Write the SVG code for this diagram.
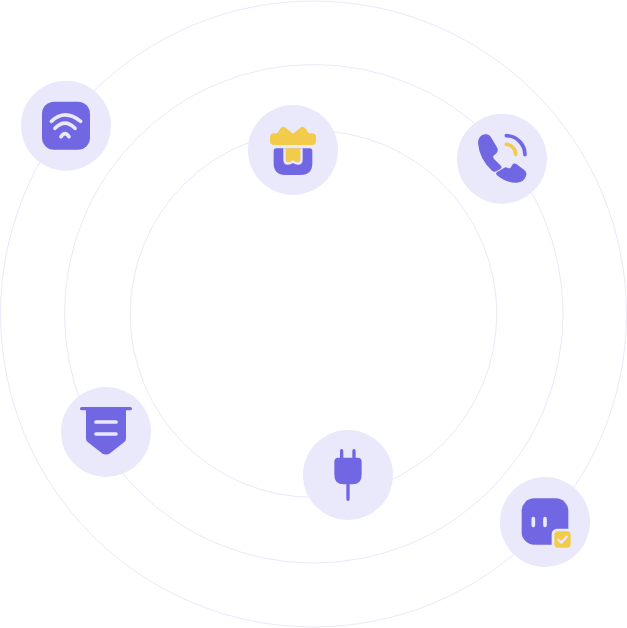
<svg xmlns="http://www.w3.org/2000/svg" width="627" height="628" viewBox="0 0 627 628">
<style>
.ring{fill:none;stroke:#EAE8FA;stroke-width:1}
.disc{fill:#EAE8FB}
.p{fill:#7267E2}
.y{fill:#F2CB4B}
.ps{fill:none;stroke:#7267E2;stroke-width:10;stroke-linecap:round}
.ls{fill:none;stroke:#EAE8FB;stroke-width:11;stroke-linecap:round}
</style>
<rect width="627" height="628" fill="#fff"/>
<g id="connectors">
<circle class="ring" cx="313.5" cy="314" r="313"/>
<circle class="ring" cx="313.8" cy="313.8" r="249.3"/>
<circle class="ring" cx="313.5" cy="314" r="183.3"/>
</g>
<g id="node-wifi">
<circle class="disc" cx="66" cy="125.7" r="45"/>
<g transform="translate(15 75) scale(.3333)">
<rect class="p" x="81" y="80" width="144" height="144" rx="36"/>
<path class="ls" d="M109 139Q150 100 197 139M120 160Q150 129 180 160M138 185Q150 167 162 185"/>
</g>
</g>
<g id="node-gift">
<circle class="disc" cx="293" cy="150" r="45"/>
<g transform="translate(243 100) scale(.3333)">
<path class="y" d="M93 100H103L113 85Q120 76 128 83L150 101L172 83Q180 76 187 85L197 100H207Q219 100 219 112V123Q219 135 207 135H93Q81 135 81 123V112Q81 100 93 100Z"/>
<path class="p" d="M92 153Q92 145 100 145H200Q208 145 208 153V190Q208 225 173 225H127Q92 225 92 190Z"/>
<path class="disc" d="M121 145H179V180Q179 194 165 194Q157 194 150 189Q143 194 135 194Q121 194 121 180Z"/>
<path class="y" d="M128 145H172V178Q172 187 163 187Q156 187 150 180Q144 187 137 187Q128 187 128 178Z"/>
</g>
</g>
<g id="node-phone">
<circle class="disc" cx="502" cy="158.7" r="45"/>
<g transform="translate(452 109) scale(.3333)">
<path class="p" d="M78 102Q79 80 98 76Q111 74 118 86L136 117Q140 128 131 135L124 141Q122 146 127 151L148 172Q150 177 145 180L133 187Q126 190 120 185Q82 150 78 102Z"/>
<path class="p" d="M134 190L156 177Q162 173 167 177Q175 181 181 167Q186 161 193 165L216 182Q226 190 222 201Q215 220 195 221Q163 222 134 198Q131 194 134 190Z"/>
<path d="M163 80A57 57 0 0 1 219 137" fill="none" stroke="#7267E2" stroke-width="11" stroke-linecap="round"/>
<path d="M163 106A30 30 0 0 1 191 136" fill="none" stroke="#F2CB4B" stroke-width="11" stroke-linecap="round"/>
</g>
</g>
<g id="node-banner">
<circle class="disc" cx="106" cy="432" r="45"/>
<g transform="translate(56 382) scale(.3333)">
<path class="p" d="M90 80H210V170Q210 176 205 180L162 214Q150 221 138 214L95 180Q90 176 90 170Z"/>
<path class="ps" d="M77 80H223"/>
<path class="ls" d="M120 120H180M120 156H180"/>
</g>
</g>
<g id="node-plug">
<circle class="disc" cx="348" cy="475" r="45"/>
<g transform="translate(298 425) scale(.3333)">
<path class="ps" d="M131 77V105M168 77V105M150 170V223"/>
<path class="p" d="M121 98H179Q191 98 191 110V150Q191 178 163 178H137Q109 178 109 150V110Q109 98 121 98Z"/>
</g>
</g>
<g id="node-socket">
<circle class="disc" cx="545" cy="522" r="45"/>
<g transform="translate(495 472) scale(.3333)">
<rect class="p" x="80" y="79" width="140" height="139" rx="38"/>
<path class="ls" d="M115 140V160M150 140V160"/>
<rect class="disc" x="170" y="170" width="65" height="65" rx="16"/>
<rect class="y" x="178" y="178" width="49" height="49" rx="11"/>
<path d="M190 204L199 212L215 194" fill="none" stroke="#EAE8FB" stroke-width="7" stroke-linecap="round" stroke-linejoin="round"/>
</g>
</g>
</svg>
